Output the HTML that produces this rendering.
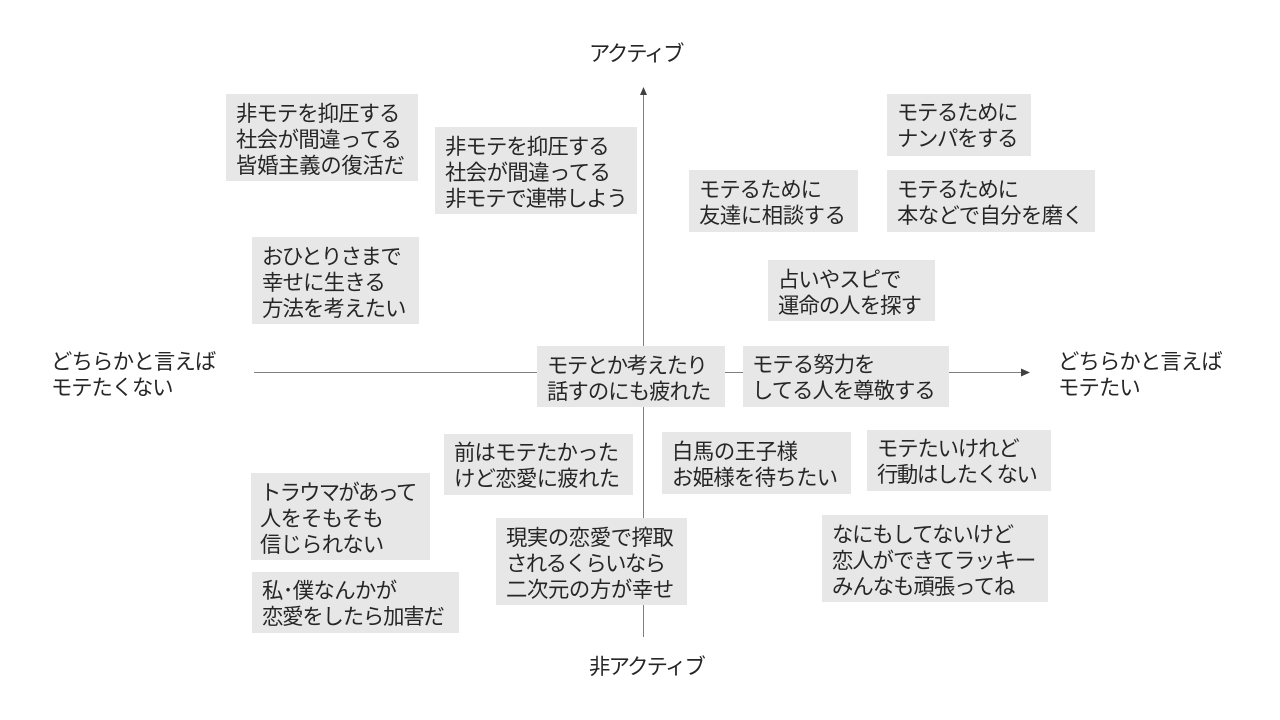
<!DOCTYPE html>
<html lang="ja">
<head>
<meta charset="utf-8">
<style>
html,body{margin:0;padding:0;background:#fff;}
#c{position:relative;width:1280px;height:720px;overflow:hidden;background:#fff;font-family:"Liberation Sans","Noto Sans CJK JP",sans-serif;color:#262626;font-size:21.33px;line-height:26px;}
.b{position:absolute;background:#e7e7e7;white-space:nowrap;box-sizing:border-box;padding-left:10px;}
.t{position:absolute;white-space:nowrap;}
i{font-style:normal;display:block;}
svg{position:absolute;left:0;top:0;}
</style>
</head>
<body>
<div id="c">
<svg width="1280" height="720">
<line x1="643.5" y1="637" x2="643.5" y2="94" stroke="#7f7f7f" stroke-width="1"/>
<polygon points="643.5,87 640,95 647,95" fill="#404040"/>
<line x1="254" y1="372.5" x2="1022" y2="372.5" stroke="#7f7f7f" stroke-width="1"/>
<polygon points="1030,372.5 1021,368.5 1021,376.5" fill="#404040"/>
</svg>
<div class="t" style="left:589px;top:41px;"><i style="letter-spacing:-2.2px">アクティブ</i></div>
<div class="t" style="left:589px;top:654px;"><i style="letter-spacing:-1.75px">非アクティブ</i></div>
<div class="t" style="left:51px;top:349px;"><i style="letter-spacing:-.75px">どちらかと言えば</i><i style="letter-spacing:-1.08px">モテたくない</i></div>
<div class="t" style="left:1058px;top:349px;"><i style="letter-spacing:-.85px">どちらかと言えば</i><i style="letter-spacing:-.85px">モテたい</i></div>

<div class="b" style="left:226px;top:94px;width:192px;height:87px;padding-top:7px;"><i style="letter-spacing:-.9px">非モテを抑圧する</i><i style="letter-spacing:-.52px">社会が間違ってる</i><i style="letter-spacing:-.25px">皆婚主義の復活だ</i></div>
<div class="b" style="left:435px;top:127px;width:202px;height:87px;padding-top:7px;"><i style="letter-spacing:-.85px">非モテを抑圧する</i><i style="letter-spacing:-.52px">社会が間違ってる</i><i style="letter-spacing:-1.15px">非モテで連帯しよう</i></div>
<div class="b" style="left:887px;top:94px;width:144px;height:62px;padding-top:6px;"><i style="letter-spacing:-1.3px">モテるために</i><i style="letter-spacing:-1.3px">ナンパをする</i></div>
<div class="b" style="left:689px;top:170px;width:169px;height:62px;padding-top:7px;"><i style="letter-spacing:-1px">モテるために</i><i style="letter-spacing:-.4px">友達に相談する</i></div>
<div class="b" style="left:887px;top:170px;width:208px;height:62px;padding-top:7px;"><i style="letter-spacing:-1.2px">モテるために</i><i style="letter-spacing:-.6px">本などで自分を磨く</i></div>
<div class="b" style="left:252px;top:237px;width:167px;height:87px;padding-top:7px;"><i style="letter-spacing:-1.5px">おひとりさまで</i><i style="letter-spacing:-.75px">幸せに生きる</i><i style="letter-spacing:-.8px">方法を考えたい</i></div>
<div class="b" style="left:768px;top:260px;width:167px;height:61px;padding-top:7px;"><i style="letter-spacing:-.9px">占いやスピで</i><i style="letter-spacing:-.9px">運命の人を探す</i></div>
<div class="b" style="left:537px;top:346px;width:188px;height:61px;padding-top:7px;"><i style="letter-spacing:-1.4px">モテとか考えたり</i><i style="letter-spacing:-.9px">話すのにも疲れた</i></div>
<div class="b" style="left:743px;top:346px;width:206px;height:61px;padding-top:6px;padding-left:9px;"><i style="letter-spacing:-.9px">モテる努力を</i><i style="letter-spacing:-.95px">してる人を尊敬する</i></div>
<div class="b" style="left:444px;top:434px;width:189px;height:61px;padding-top:6px;"><i style="letter-spacing:-.8px">前はモテたかった</i><i style="letter-spacing:-.65px">けど恋愛に疲れた</i></div>
<div class="b" style="left:662px;top:432px;width:189px;height:62px;padding-top:7px;"><i style="letter-spacing:-.4px">白馬の王子様</i><i style="letter-spacing:-.65px">お姫様を待ちたい</i></div>
<div class="b" style="left:867px;top:430px;width:184px;height:61px;padding-top:6px;"><i style="letter-spacing:-1.1px">モテたいけれど</i><i style="letter-spacing:-1.4px">行動はしたくない</i></div>
<div class="b" style="left:251px;top:473px;width:179px;height:87px;padding-left:9px;padding-top:7px;"><i style="letter-spacing:-1.75px">トラウマがあって</i><i style="letter-spacing:-.75px">人をそもそも</i><i style="letter-spacing:-.75px">信じられない</i></div>
<div class="b" style="left:496px;top:518px;width:191px;height:87px;padding-top:7px;"><i style="letter-spacing:-.4px">現実の恋愛で搾取</i><i style="letter-spacing:-1.5px">されるくらいなら</i><i style="letter-spacing:-.35px">二次元の方が幸せ</i></div>
<div class="b" style="left:822px;top:515px;width:226px;height:87px;padding-top:7px;"><i style="letter-spacing:-1.15px">なにもしてないけど</i><i style="letter-spacing:-1px">恋人ができてラッキー</i><i style="letter-spacing:-.95px">みんなも頑張ってね</i></div>
<div class="b" style="left:252px;top:572px;width:207px;height:61px;padding-top:6px;"><i style="letter-spacing:-.6px">私･僕なんかが</i><i style="letter-spacing:-1.15px">恋愛をしたら加害だ</i></div>
</div>
</body>
</html>
